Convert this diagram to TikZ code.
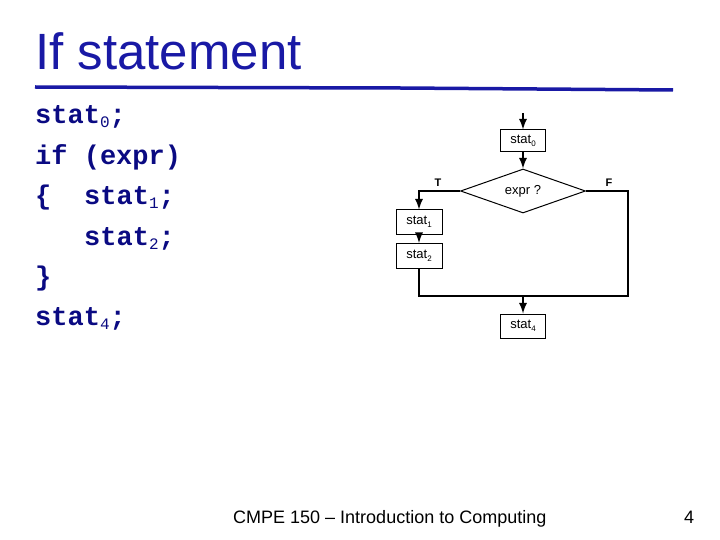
\documentclass[tikz,border=0pt]{standalone}
\usepackage{fontspec}
\setmainfont{Liberation Sans}
\setmonofont{Liberation Mono}
\usepackage{tikz}
\usetikzlibrary{arrows}
\usetikzlibrary{shapes.geometric}
\usepackage{xcolor}

\definecolor{titleblue}{RGB}{25,25,165}
\definecolor{codeblue}{RGB}{10,10,130}

% subscript inside the code lines
\newcommand{\csub}[1]{\raisebox{-4pt}{\fontsize{16}{16}\selectfont\mdseries #1}}
% subscript inside the chart boxes
\newcommand{\bsub}[1]{\raisebox{-3pt}{\fontsize{8}{8}\selectfont #1}}

\tikzset{
  stat/.style={draw, line width=1pt, minimum width=45pt, minimum height=23pt, inner sep=0pt, font=\fontsize{13}{13}\selectfont},
  test/.style={draw, diamond, line width=1pt, minimum width=125pt, minimum height=44pt, aspect=2.84, inner sep=0pt, font=\fontsize{13}{13}\selectfont},
  flow/.style={line width=2.6pt, -latex},
  codeline/.style={anchor=base west, inner sep=0pt, text=codeblue, font=\ttfamily\bfseries\fontsize{27}{27}\selectfont},
}

\begin{document}
\begin{tikzpicture}[x=1pt,y=-1pt]
\useasboundingbox (0,0) rectangle (720,540);

% Title and rule
\node[anchor=base west, inner sep=0pt, text=titleblue, font=\fontsize{51}{51}\selectfont] (title) at (35,70) {If statement};
\draw[titleblue, line width=3.5pt] (35,87) -- (400,88) -- (673,90);

% The code
\node[codeline] (c0) at (35,124) {stat\csub{0};};
\node[codeline] (c1) at (35,165) {if (expr)};
\node[codeline] (c2) at (35,205) {\{};
\node[codeline] (c3) at (84,205) {stat\csub{1};};
\node[codeline] (c4) at (84,245) {stat\csub{2};};
\node[codeline] (c5) at (35,285) {\}};
\node[codeline] (c6) at (35,325) {stat\csub{4};};

% The flow chart
\coordinate (start) at (523,113);
\node[stat, minimum height=22pt] (s0) at (523,141) {stat\bsub{0}};
\node[test] (cond) at (523,191) {expr ?};
\node[stat, minimum width=46pt, minimum height=24pt] (s1) at (419,222) {stat\bsub{1}};
\node[stat, minimum width=46pt, minimum height=25pt] (s2) at (419,256) {stat\bsub{2}};
\node[stat, minimum height=24pt] (s4) at (523,326) {stat\bsub{4}};
\coordinate (join) at (523,296);
\coordinate (fcorner) at (628,296);

\node[font=\bfseries\fontsize{11}{11}\selectfont] (tlabel) at (438,183) {T};
\node[font=\bfseries\fontsize{11}{11}\selectfont] (flabel) at (609,183) {F};

\draw[flow] (start) -- (s0);
\draw[flow] (s0) -- (cond);
\draw[flow] (cond.west) -| (s1.north);
\draw[flow] (s1) -- (s2);
\draw[line width=1.2pt] (s2.south) |- (join);
\draw[line width=2.6pt, line join=miter] (cond.east) -| (fcorner) -- (join);
\draw[flow] (join) -- (s4);

% Footer
\node[anchor=base west, inner sep=0pt, font=\fontsize{18}{18}\selectfont] (foot) at (233,523) {CMPE 150 – Introduction to Computing};
\node[anchor=base west, inner sep=0pt, font=\fontsize{18}{18}\selectfont] (page) at (684,523) {4};

\end{tikzpicture}
\end{document}
